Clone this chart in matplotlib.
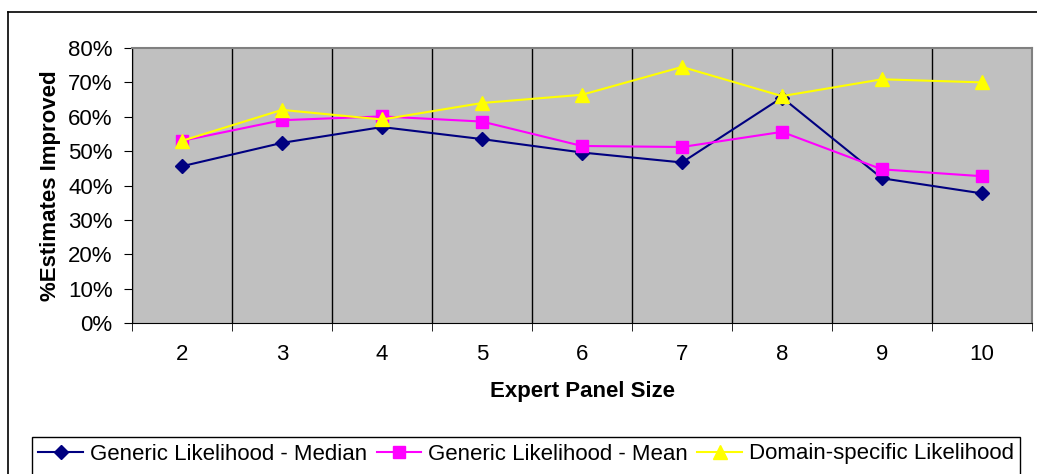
import numpy as np
import matplotlib.pyplot as plt
from matplotlib.lines import Line2D
from matplotlib.patches import Rectangle
from matplotlib.ticker import PercentFormatter

plt.rcParams['font.family'] = ['Liberation Sans', 'DejaVu Sans']

panel_size = np.array([2, 3, 4, 5, 6, 7, 8, 9, 10])
median = np.array([45.6, 52.4, 57.0, 53.5, 49.6, 46.7, 65.6, 42.1, 37.7]) / 100
mean = np.array([53.0, 59.0, 60.1, 58.6, 51.5, 51.2, 55.6, 44.7, 42.7]) / 100
domain = np.array([53.0, 62.0, 59.2, 64.0, 66.4, 74.5, 66.0, 70.9, 70.0]) / 100

W, H = 1037, 474
fs = 16
fig = plt.figure(figsize=(W / 100, H / 100), dpi=100)
ax = fig.add_axes([132 / W, (H - 323) / H, (1032 - 132) / W, (323 - 48) / H])
ax.set_facecolor("#c0c0c0")

ax.plot(panel_size, median, color="#000080", linewidth=1.5,
        marker="D", markersize=7.5, label="Generic Likelihood - Median")
ax.plot(panel_size, mean, color="#ff00ff", linewidth=1.5,
        marker="s", markersize=8, label="Generic Likelihood - Mean")
ax.plot(panel_size, domain, color="#ffff00", linewidth=1.5,
        marker="^", markersize=10, label="Domain-specific Likelihood")

ax.set_xlim(1.5, 10.5)
ax.set_ylim(0, 0.8)
ax.set_yticks(np.arange(0, 0.81, 0.1))
ax.yaxis.set_major_formatter(PercentFormatter(1.0, decimals=0))
ax.set_xticks(panel_size)
ax.set_xticks(np.arange(1.5, 10.6, 1), minor=True)
ax.tick_params(axis="x", which="major", length=0, pad=15, labelsize=fs)
ax.tick_params(axis="x", which="minor", length=6, direction="out", color="black")
ax.tick_params(axis="y", length=6, direction="out", color="black", labelsize=fs, pad=8)
ax.grid(axis="x", which="minor", color="black", linewidth=1)

for side in ["top", "right"]:
    ax.spines[side].set_color("#808080")
    ax.spines[side].set_linewidth(1.5)
ax.spines["left"].set_color("black")
ax.spines["bottom"].set_color("black")

ax.set_xlabel("Expert Panel Size", fontsize=fs, fontweight="bold", labelpad=12)
ax.set_ylabel("%Estimates Improved", fontsize=fs, fontweight="bold", labelpad=5)

# outer chart frame
fig.add_artist(Line2D([8 / W, 8 / W], [0, 1 - 12 / H], transform=fig.transFigure, color="black", linewidth=1.2))
fig.add_artist(Line2D([8 / W, 1], [1 - 12 / H, 1 - 12 / H], transform=fig.transFigure, color="black", linewidth=1.2))

# legend box
fig.add_artist(Rectangle((32 / W, -2 / H), (1020 - 32) / W, 39 / H,
                         transform=fig.transFigure, facecolor="white", edgecolor="black", linewidth=1.0))
leg = fig.legend(loc="center", bbox_to_anchor=(526 / W, 1 - 454 / H),
                 ncol=3, fontsize=fs, frameon=False,
                 handlelength=2.0, handletextpad=0.3, columnspacing=0.45,
                 borderaxespad=0)

plt.savefig("out.png", dpi=100)
